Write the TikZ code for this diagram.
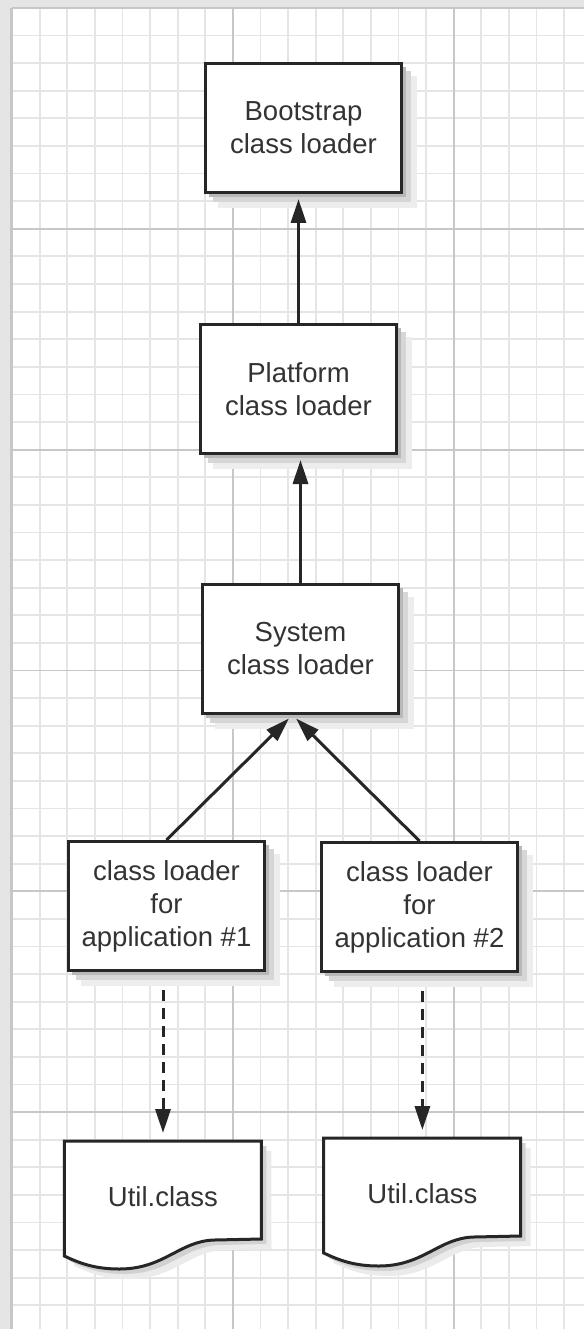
\documentclass[tikz,border=0pt]{standalone}
\usepackage{fontspec}
\setmainfont{Liberation Sans}
\usepackage{tikz}
\usetikzlibrary{arrows.meta,positioning}

\pgfdeclarelayer{paper}
\pgfdeclarelayer{docs}
\pgfsetlayers{paper,docs,main}

% outline of a class file, from its north west corner
\newcommand{\filepath}{(0,0) -- (197,0) -- (197,98) -- (150,99)
    .. controls (115,100) and (100,128) .. (55,128)
    .. controls (30,128) and (15,122) .. (0,115) -- cycle}

% soft shadow right of and below a box
\newcommand{\boxshadow}[1]{%
    \draw[shadowline, black!7, line width=14pt]
        ([xshift=7pt, yshift=-14pt]#1.north east)
        -- ([xshift=7pt, yshift=-7pt]#1.south east)
        -- ([xshift=14pt, yshift=-7pt]#1.south west);
    \draw[shadowline, black!16, line width=8pt]
        ([xshift=4pt, yshift=-9pt]#1.north east)
        -- ([xshift=4pt, yshift=-4pt]#1.south east)
        -- ([xshift=9pt, yshift=-4pt]#1.south west);
    \draw[shadowline, black!28, line width=3pt]
        ([xshift=1.5pt, yshift=-5pt]#1.north east)
        -- ([xshift=1.5pt, yshift=-1.5pt]#1.south east)
        -- ([xshift=5pt, yshift=-1.5pt]#1.south west);}

\begin{document}
\begin{tikzpicture}[
    x=1pt, y=-1pt,
    loader/.style={rectangle, draw=black!85, line width=3pt, fill=white,
        minimum width=196pt, minimum height=129pt, inner sep=0pt,
        font=\fontsize{27.5}{33}\selectfont, text=black!80, align=center},
    classfile/.style={rectangle, minimum width=197pt, minimum height=110pt,
        inner sep=0pt, font=\fontsize{27.5}{33}\selectfont, text=black!80},
    docpath/.style={draw=black!85, line width=3pt, fill=white},
    shadowline/.style={line cap=butt, line join=miter},
    arr/.style={-{Triangle[length=24pt, width=15pt]}, line width=3pt,
        draw=black!85, shorten >=5pt},
    dasharr/.style={arr, dash pattern=on 11pt off 7pt,
        shorten <=18pt, shorten >=8pt},
    minorgrid/.style={draw=black!10, line width=1.8pt},
    majorgrid/.style={draw=black!22, line width=1.8pt},
]
\useasboundingbox (0,0) rectangle (584,1329);

% ── Graph paper ──
\begin{pgfonlayer}{paper}
\fill[black!10] (0,0) rectangle (584,1329);
\draw[black!22, line width=2pt] (11,8) -- (11,1329);
\fill[white] (12,8) rectangle (584,1329);
\draw[minorgrid, step=27.6pt, shift={(12,8)}] (0,0) grid (572,1321);
\draw[majorgrid, step=220.8pt, shift={(12,8)}] (0,0) grid (572,1321);
\end{pgfonlayer}

% ── Loader chain ──
\node[loader] (boot) at (303.5,128)
    {Bootstrap\\class loader};
\node[loader, below=129pt of boot, xshift=-5pt] (plat)
    {Platform\\class loader};
\node[loader, below=128pt of plat, xshift=2pt] (sys)
    {System\\class loader};

% ── Application loaders ──
\node[loader, below=125pt of sys, xshift=-134pt] (app1)
    {class loader\\for\\application \#1};
\node[loader, right=54pt of app1, yshift=-1pt] (app2)
    {class loader\\for\\application \#2};

% ── Class files ──
\node[classfile, below=169pt of app1, xshift=-3.5pt] (util1)
    {Util.class};
\node[classfile, right=62pt of util1, yshift=3pt] (util2)
    {Util.class};

\begin{pgfonlayer}{docs}
\fill[black!8, shift={(util1.north west)}, xshift=10pt, yshift=-10pt]
    \filepath;
\fill[black!18, shift={(util1.north west)}, xshift=5pt, yshift=-5pt]
    \filepath;
\fill[black!8, shift={(util2.north west)}, xshift=10pt, yshift=-10pt]
    \filepath;
\fill[black!18, shift={(util2.north west)}, xshift=5pt, yshift=-5pt]
    \filepath;
\draw[docpath, shift={(util1.north west)}] \filepath;
\draw[docpath, shift={(util2.north west)}] \filepath;
\end{pgfonlayer}

% ── Shadows ──
\boxshadow{boot}
\boxshadow{plat}
\boxshadow{sys}
\boxshadow{app1}
\boxshadow{app2}

% ── Arrows ──
\coordinate (sysin) at ([xshift=-8pt]sys.south);
\draw[arr] (plat.north) -- (plat.north |- boot.south);
\draw[arr] (sys.north) -- (sys.north |- plat.south);
\draw[arr] (app1.north) -- (sysin);
\draw[arr] (app2.north) -- (sysin);
\draw[dasharr] (app1.south -| util1.north) -- (util1.north);
\draw[dasharr] (app2.south -| util2.north) -- (util2.north);

\end{tikzpicture}
\end{document}
